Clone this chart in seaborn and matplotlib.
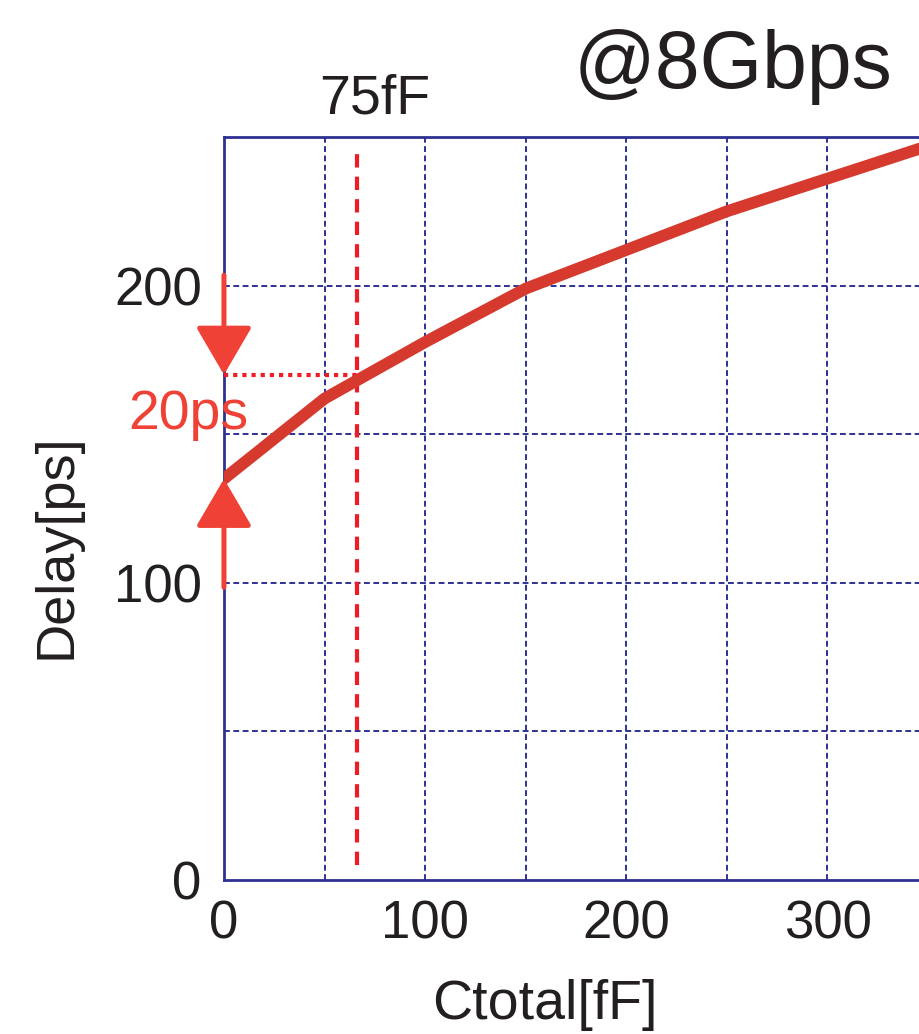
import matplotlib
matplotlib.use("Agg")
import matplotlib.pyplot as plt
import seaborn as sns
import pandas as pd

# ---- data ----
ctotal = [0, 50, 100, 150, 200, 250, 300, 350]
delay = [135, 162, 181, 199, 212, 225, 236, 247]
x_ticks = [0, 100, 200, 300]
y_ticks = [0, 100, 200]
grid_steps = [0, 50, 100, 150, 200, 250, 300, 350]
marker_c = 66          # vertical dashed marker (fF)
level_delay = 170      # dotted level (ps)
base_delay = 135       # delay at C=0
arrow_top_start = 203.5
arrow_bot_start = 98.5
title_text = "@8Gbps"
cap_label = "75fF"
delta_label = "20ps"

sns.set_theme(style="white")
plt.rcParams['font.family'] = ['Liberation Sans', 'DejaVu Sans']

NAVY = '#2e3192'
CURVE = '#d63a2e'
RED = '#ee1c25'
ARROW = '#ef4135'
INK = '#231f20'

fig = plt.figure(figsize=(9.19, 10.34), dpi=100)
ax = fig.add_axes([0.2437, 0.1489, 1 - 0.2437, 0.8675 - 0.1489])

df = pd.DataFrame({"Ctotal": ctotal, "Delay": delay})

ax.set_xlim(0, 345.5)
ax.set_ylim(0, 250)

# grid
for g in grid_steps:
    if 0 < g < 345.5:
        ax.axvline(g, color=NAVY, lw=1.4, ls=(0, (3, 1.8)), zorder=1)
    if 0 < g < 250:
        ax.axhline(g, color=NAVY, lw=1.4, ls=(0, (3, 1.8)), zorder=1)

sns.lineplot(data=df, x="Ctotal", y="Delay", ax=ax, color=CURVE, lw=8.5,
             zorder=4, legend=False)

# vertical dashed marker
ax.axvline(marker_c, ymin=0.02, ymax=0.985, color=RED, lw=3, ls=(0, (3.2, 2.2)), zorder=3)
# dotted level
ax.plot([0, marker_c], [level_delay, level_delay], color=RED, lw=3,
        ls=(0, (1, 1.2)), zorder=3, solid_capstyle='butt')

# arrows
ap = dict(arrowstyle='-|>,head_length=3.0,head_width=1.75', mutation_scale=10,
          color=ARROW, lw=3.6, shrinkA=0, shrinkB=0)
ax.annotate('', xy=(0, level_delay), xytext=(0, arrow_top_start), arrowprops=ap,
            annotation_clip=False, zorder=5)
ax.annotate('', xy=(0, base_delay), xytext=(0, arrow_bot_start), arrowprops=ap,
            annotation_clip=False, zorder=5)

# texts
ax.text(75, 262.5, cap_label, ha='center', va='center', fontsize=40, color=INK)
ax.text(253, 273.5, title_text, ha='center', va='center', fontsize=58, color=INK)
ax.text(-47.5, 156.5, delta_label, ha='left', va='center', fontsize=40, color=ARROW, zorder=6)

ax.set_xticks(x_ticks)
ax.set_yticks(y_ticks)
ax.set_xticklabels([str(t) for t in x_ticks])
ax.set_yticklabels([str(t) for t in y_ticks])
ax.tick_params(axis='both', length=0, labelsize=38, colors=INK)
ax.tick_params(axis='x', pad=14)
ax.tick_params(axis='y', pad=16)

ax.set_xlabel("Ctotal[fF]", fontsize=40, color=INK)
ax.set_ylabel("Delay[ps]", fontsize=39, color=INK)
ax.xaxis.set_label_coords((545 - 224) / 695, -(1005 - 880) / 743)
ax.yaxis.set_label_coords(-(224 - 57) / 695, (880 - 546) / 743)
ax.xaxis.label.set_va('center')
ax.yaxis.label.set_va('center')

for s in ['left', 'bottom', 'top']:
    ax.spines[s].set_color(NAVY)
    ax.spines[s].set_linewidth(2)
    ax.spines[s].set_visible(True)
ax.spines['right'].set_visible(False)
ax.set_facecolor('white')

fig.savefig("out.png", dpi=100, facecolor='white')
